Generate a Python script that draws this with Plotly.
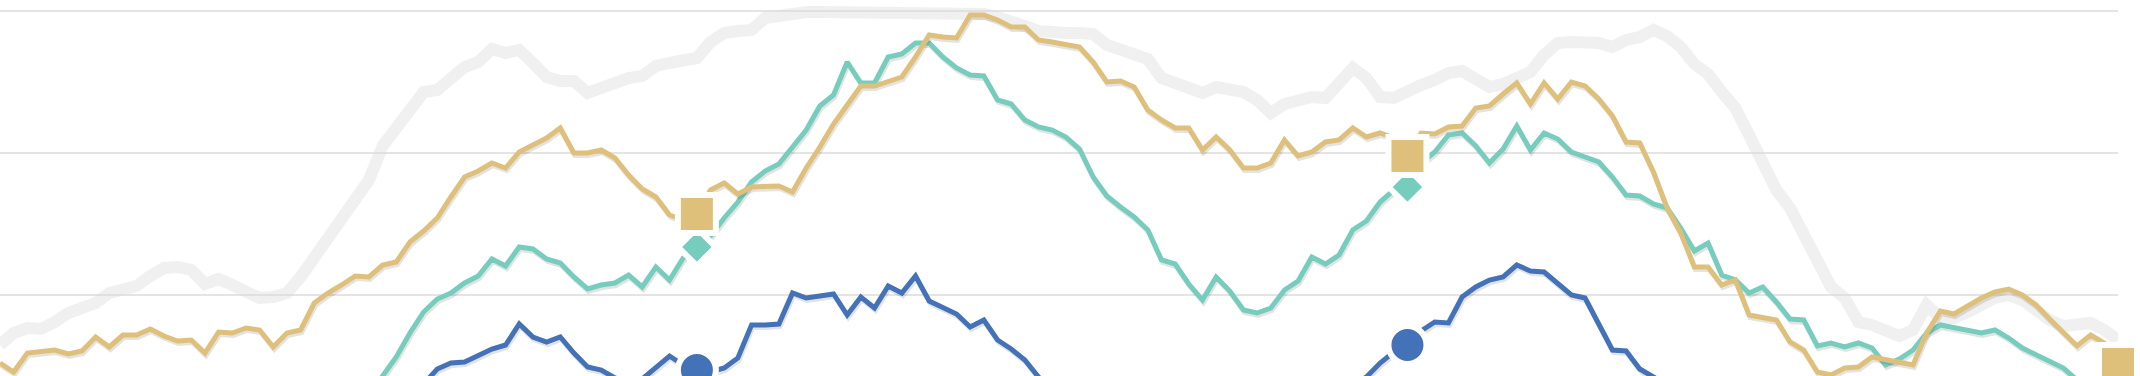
import numpy as np
import plotly.graph_objects as go

# weekly index 1..156
weeks = list(range(1, 157))

gray_vals = [
    31, 43, 48, 47, 54, 63, 68, 73, 83, 86, 90, 100, 108, 109, 106, 92, 97, 91,
    84, 78, 79, 83, 99, 118, 139, 154, 175, 196, 230, 248, 264, 284, 286, 297, 309, 314,
    327, 323, 326, 313, 299, 295, 295, 283, 288, 296, 298, 300, 310, 313, 316, 318,
    334, 343, 345, 346, 358, 361, 363, 364, 364, 364, 364, 365, 365, 365, 365, 365, 365, 364, 364, 364,
    362, 359, 356, 350, 345, 343, 343, 343, 342, 331, 326, 322, 317, 298, 292, 288,
    283, 289, 288, 284, 276, 263, 272, 276, 279, 278, 294, 308, 298, 279, 278, 286, 291, 296, 303, 305,
    296, 289, 292, 299, 304, 321, 333, 334, 334, 333, 329, 336, 339, 346, 340, 329, 312, 302, 284, 268,
    241, 214, 186, 168, 142, 114, 89, 78, 54, 51, 46, 40, 46, 71, 58, 58, 64, 71, 78, 81,
    76, 66, 56, 50, 51, 53, 46, 36,
]

gold_vals = [
    13, 4, 23, 24, 26, 22, 25, 39, 29, 41, 41, 47, 40, 35, 36, 23, 44, 43,
    48, 46, 29, 43, 46, 73, 83, 91, 100, 99, 111, 114, 134, 145, 158, 179, 199, 205,
    213, 208, 224, 231, 238, 248, 223, 223, 226, 218, 201, 187, 179, 161, 156, 162,
    186, 193, 182, 189, 190, 190, 184, 208, 229, 252, 271, 290, 290, 295, 299, 319, 341, 339, 338, 361,
    361, 356, 349, 349, 336, 334, 332, 329, 314, 294, 295, 289, 266, 256, 248, 248,
    226, 239, 226, 208, 208, 213, 236, 220, 224, 234, 236, 248, 239, 243, 238, 220, 243, 242, 249, 250,
    268, 270, 282, 293, 272, 293, 277, 294, 290, 277, 260, 234, 233, 204, 168, 143, 109, 109, 91, 96,
    61, 58, 56, 34, 26, 4, 1, 8, 9, 19, 16, 13, 11, 43, 65, 62, 70, 78, 84, 87,
    81, 71, 57, 44, 30, 41, 33, 12,
]

teal_vals = [
    -64, -69, -72, -74, -76, -74, -72, -74, -76, -79, -82, -79, -76, -74, -76, -79, -79, -76, -74, -72,
    -69, -64, -59, -52, -44, -36, -27, -17,
    0, 19, 43, 64, 77, 83, 93, 100, 117, 110, 129, 127, 117, 113, 99, 87, 91, 93, 101, 89, 109, 96, 118, 129,
    140, 158, 174, 194, 205, 212, 229, 246, 270, 281, 314, 293, 293, 319, 322, 333, 333, 319, 308, 301,
    300, 276, 272, 256, 249, 246, 239, 227, 199, 180, 169, 159, 146, 116, 112, 92,
    76, 99, 85, 66, 63, 68, 86, 95, 119, 112, 121, 146, 155, 174, 186, 189, 213, 224, 241, 243,
    230, 213, 227, 250, 226, 243, 237, 224, 219, 214, 199, 181, 180, 172, 168, 148, 125, 133, 101, 96,
    83, 89, 74, 57, 56, 30, 33, 29, 33, 28, 11, 17, 26, 43, 51, 48, 46, 43, 46, 38,
    28, 21, 15, 8, -4, -16, -26, -36,
]

blue_vals = [
    -110, -115, -118, -120, -118, -115, -112, -110, -108, -106, -104, -100, -98, -96, -95, -93,
    -90, -88, -85, -82, -78, -74, -70, -65, -60, -55, -48, -42, -35, -27, -18, -8,
    7, 13, 14, 20, 27, 31, 52, 39, 34, 39, 23, 9, 6, -2, -5, -3, 8, 20, 11, 6,
    4, 8, 18, 51, 51, 52, 83, 78, 80, 82, 61, 79, 68, 90, 83, 100, 75, 68, 62, 49, 56, 36, 27, 16, -1,
    -14, -24, -34, -44, -54, -62, -69, -74, -79, -84, -86, -89, -86, -84, -79, -74, -64, -54, -44, -34,
    -24, -16, -9,
    -1, 13, 24, 31, 45, 54, 53, 79, 89, 96, 99, 111, 105, 104, 93, 81, 78, 53, 26, 25, 7, -1,
    -9, -16, -24, -32, -40, -48, -55, -62, -68, -74, -80, -84, -88, -90, -92, -93, -94, -95, -94, -92,
    -90, -88, -86, -85, -84, -84, -85, -86, -88, -89, -90, -90, -90, -90,
]

marker_weeks = [52, 104, 156]
gold_marks = [162, 220, 12]
teal_marks = [129, 189, -36]
blue_marks = [6, 31, -90]

GOLD = "#DFC07A"
TEAL = "#76CDBE"
BLUE = "#4372B8"
GRAY = "rgba(220,220,220,0.42)"
SHADOW = "rgba(40,40,40,0.13)"

fig = go.Figure()


def xs(vals):
    return weeks[: len(vals)]


fig.add_trace(go.Scatter(x=xs(gray_vals), y=gray_vals, mode="lines",
                         line=dict(color=GRAY, width=12), hoverinfo="skip"))

for vals, col in [(blue_vals, BLUE), (teal_vals, TEAL), (gold_vals, GOLD)]:
    x = np.array(xs(vals), dtype=float)
    y = np.array(vals, dtype=float)
    fig.add_trace(go.Scatter(x=x + 0.08, y=y - 2.5, mode="lines",
                             line=dict(color=SHADOW, width=5), hoverinfo="skip"))
    fig.add_trace(go.Scatter(x=x, y=y, mode="lines",
                             line=dict(color=col, width=5), hoverinfo="skip"))

fig.add_trace(go.Scatter(x=marker_weeks, y=blue_marks, mode="markers", cliponaxis=False,
                         marker=dict(symbol="circle", size=38, color=BLUE,
                                     line=dict(color="white", width=6))))
fig.add_trace(go.Scatter(x=marker_weeks, y=teal_marks, mode="markers", cliponaxis=False,
                         marker=dict(symbol="diamond", size=29, color=TEAL,
                                     line=dict(color="white", width=6))))
fig.add_trace(go.Scatter(x=marker_weeks, y=gold_marks, mode="markers", cliponaxis=False,
                         marker=dict(symbol="square", size=38, color=GOLD,
                                     line=dict(color="white", width=6))))

fig.update_layout(
    width=2140, height=376,
    margin=dict(l=0, r=22, t=0, b=0),
    paper_bgcolor="white", plot_bgcolor="white",
    showlegend=False,
    xaxis=dict(range=[1, 156], showgrid=False, zeroline=False, showticklabels=False,
               showline=False, fixedrange=True),
    yaxis=dict(range=[0, 376], tick0=81, dtick=142, showgrid=True, gridcolor="#e4e4e4",
               gridwidth=2, zeroline=False, showticklabels=False, showline=False,
               fixedrange=True),
)

fig.write_html("out.html", config={"displayModeBar": False},
               post_script="document.body.style.margin='0';document.body.style.overflow='hidden';")
